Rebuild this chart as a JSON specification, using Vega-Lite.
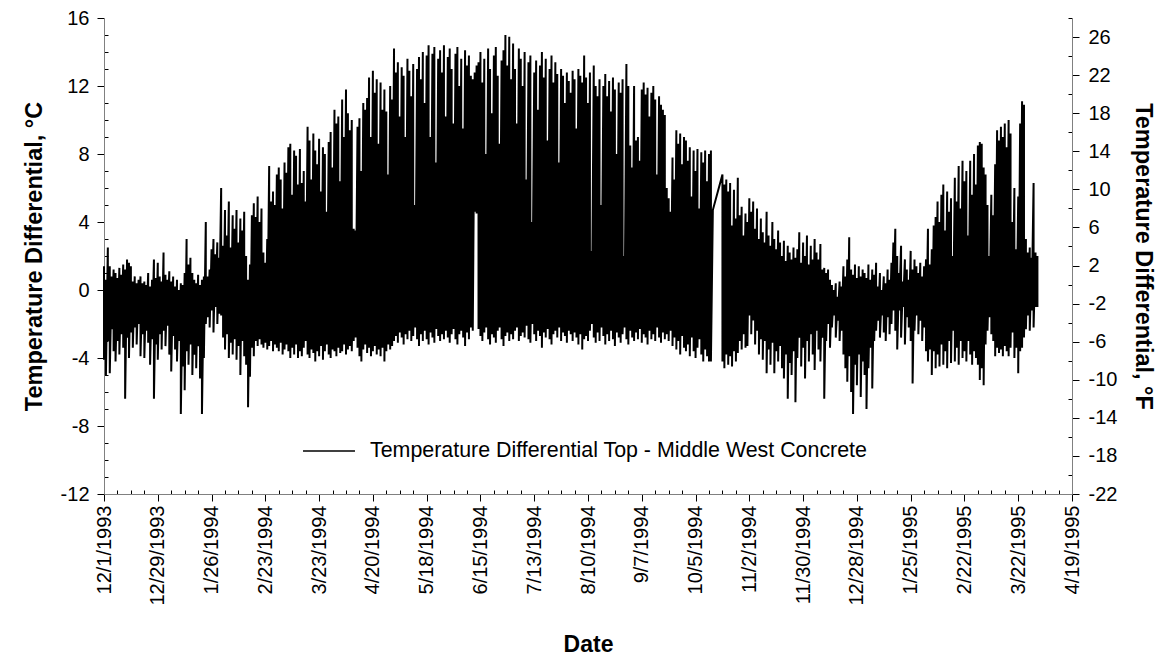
{
"$schema": "https://vega.github.io/schema/vega-lite/v6.json",
"width": 968, "height": 476,
"autosize": {"type": "none"},
"padding": {"left": 104, "top": 18, "right": 100, "bottom": 168},
"background": "white",
"config": {"view": {"stroke": null}, "font": "Liberation Sans",
 "axis": {"labelFont": "Liberation Sans", "titleFont": "Liberation Sans", "labelColor": "#000", "titleColor": "#000", "grid": false, "domainColor": "#808080", "tickColor": "#000", "labelFontSize": 20, "titleFontSize": 23.5, "titleFontWeight": "bold", "labelOverlap": false, "labelFlush": false, "labelBound": false}},
"resolve": {"scale": {"y": "independent"}, "axis": {"y": "independent"}},
"layer": [
{
"data": {"values": [
{"d":"1993-12-01","h":1.4,"l":-4.1},{"d":"1993-12-02","h":0.6,"l":-5.0},{"d":"1993-12-03","h":2.5,"l":-3.0},{"d":"1993-12-04","h":1.4,"l":-4.9},{"d":"1993-12-05","h":0.8,"l":-2.3},{"d":"1993-12-06","h":1.2,"l":-3.6},{"d":"1993-12-07","h":1.0,"l":-4.2},{"d":"1993-12-08","h":0.7,"l":-3.0},{"d":"1993-12-09","h":1.3,"l":-3.8},{"d":"1993-12-10","h":0.9,"l":-2.6},{"d":"1993-12-11","h":1.5,"l":-3.4},{"d":"1993-12-12","h":1.2,"l":-6.4},{"d":"1993-12-13","h":1.8,"l":-2.8},{"d":"1993-12-14","h":1.6,"l":-4.0},{"d":"1993-12-15","h":1.4,"l":-2.5},{"d":"1993-12-16","h":0.5,"l":-3.4},{"d":"1993-12-17","h":0.8,"l":-2.2},{"d":"1993-12-18","h":0.4,"l":-3.2},{"d":"1993-12-19","h":0.6,"l":-2.0},{"d":"1993-12-20","h":0.8,"l":-3.9},{"d":"1993-12-21","h":0.4,"l":-2.6},{"d":"1993-12-22","h":0.5,"l":-4.0},{"d":"1993-12-23","h":0.3,"l":-2.4},{"d":"1993-12-24","h":1.0,"l":-3.1},{"d":"1993-12-25","h":0.2,"l":-4.4},{"d":"1993-12-26","h":0.6,"l":-2.9},{"d":"1993-12-27","h":1.8,"l":-6.4},{"d":"1993-12-28","h":0.7,"l":-3.2},{"d":"1993-12-29","h":1.6,"l":-4.1},{"d":"1993-12-30","h":0.8,"l":-2.6},{"d":"1993-12-31","h":0.5,"l":-3.5},
{"d":"1994-01-01","h":2.2,"l":-2.4},{"d":"1994-01-02","h":0.9,"l":-3.3},{"d":"1994-01-03","h":0.6,"l":-2.1},{"d":"1994-01-04","h":1.1,"l":-3.8},{"d":"1994-01-05","h":0.5,"l":-4.8},{"d":"1994-01-06","h":0.8,"l":-2.7},{"d":"1994-01-07","h":0.2,"l":-3.5},{"d":"1994-01-08","h":0.6,"l":-4.2},{"d":"1994-01-09","h":0.0,"l":-3.0},{"d":"1994-01-10","h":0.4,"l":-7.3},{"d":"1994-01-11","h":0.3,"l":-4.5},{"d":"1994-01-12","h":1.0,"l":-5.9},{"d":"1994-01-13","h":3.0,"l":-3.6},{"d":"1994-01-14","h":1.5,"l":-4.4},{"d":"1994-01-15","h":1.9,"l":-3.2},{"d":"1994-01-16","h":1.0,"l":-5.0},{"d":"1994-01-17","h":0.6,"l":-3.8},{"d":"1994-01-18","h":0.4,"l":-4.6},{"d":"1994-01-19","h":0.9,"l":-3.3},{"d":"1994-01-20","h":0.3,"l":-5.2},{"d":"1994-01-21","h":0.6,"l":-7.3},{"d":"1994-01-22","h":0.8,"l":-4.0},{"d":"1994-01-23","h":4.0,"l":-2.0},{"d":"1994-01-24","h":0.8,"l":-1.6},{"d":"1994-01-25","h":1.2,"l":-2.2},{"d":"1994-01-26","h":2.4,"l":-1.2},{"d":"1994-01-27","h":3.0,"l":-2.5},{"d":"1994-01-28","h":2.1,"l":-1.0},{"d":"1994-01-29","h":2.8,"l":-2.0},{"d":"1994-01-30","h":1.9,"l":-1.4},{"d":"1994-01-31","h":6.0,"l":-1.5},
{"d":"1994-02-01","h":2.6,"l":-2.8},{"d":"1994-02-02","h":4.7,"l":-3.5},{"d":"1994-02-03","h":3.2,"l":-2.6},{"d":"1994-02-04","h":5.2,"l":-4.0},{"d":"1994-02-05","h":2.5,"l":-3.1},{"d":"1994-02-06","h":4.4,"l":-3.8},{"d":"1994-02-07","h":3.6,"l":-2.9},{"d":"1994-02-08","h":4.7,"l":-4.1},{"d":"1994-02-09","h":2.8,"l":-3.3},{"d":"1994-02-10","h":4.2,"l":-5.0},{"d":"1994-02-11","h":3.5,"l":-3.0},{"d":"1994-02-12","h":4.6,"l":-3.9},{"d":"1994-02-13","h":2.0,"l":-4.4},{"d":"1994-02-14","h":0.6,"l":-6.9},{"d":"1994-02-15","h":1.5,"l":-5.1},{"d":"1994-02-16","h":4.4,"l":-3.4},{"d":"1994-02-17","h":5.1,"l":-3.9},{"d":"1994-02-18","h":4.3,"l":-3.0},{"d":"1994-02-19","h":5.5,"l":-3.3},{"d":"1994-02-20","h":4.0,"l":-2.9},{"d":"1994-02-21","h":4.8,"l":-3.2},{"d":"1994-02-22","h":2.2,"l":-3.4},{"d":"1994-02-23","h":1.6,"l":-3.1},{"d":"1994-02-24","h":3.0,"l":-3.5},{"d":"1994-02-25","h":7.3,"l":-3.3},{"d":"1994-02-26","h":5.2,"l":-3.0},{"d":"1994-02-27","h":5.8,"l":-3.6},{"d":"1994-02-28","h":5.0,"l":-3.2},
{"d":"1994-03-01","h":6.8,"l":-3.4},{"d":"1994-03-02","h":7.2,"l":-3.6},{"d":"1994-03-03","h":6.5,"l":-3.1},{"d":"1994-03-04","h":4.8,"l":-3.8},{"d":"1994-03-05","h":7.5,"l":-3.5},{"d":"1994-03-06","h":6.9,"l":-3.2},{"d":"1994-03-07","h":8.4,"l":-3.6},{"d":"1994-03-08","h":8.6,"l":-4.0},{"d":"1994-03-09","h":5.6,"l":-3.4},{"d":"1994-03-10","h":8.2,"l":-3.8},{"d":"1994-03-11","h":7.9,"l":-3.2},{"d":"1994-03-12","h":6.2,"l":-4.0},{"d":"1994-03-13","h":8.3,"l":-3.6},{"d":"1994-03-14","h":6.3,"l":-3.9},{"d":"1994-03-15","h":7.0,"l":-3.4},{"d":"1994-03-16","h":5.2,"l":-3.0},{"d":"1994-03-17","h":9.6,"l":-3.8},{"d":"1994-03-18","h":8.8,"l":-4.0},{"d":"1994-03-19","h":6.5,"l":-3.5},{"d":"1994-03-20","h":9.2,"l":-3.7},{"d":"1994-03-21","h":8.2,"l":-4.2},{"d":"1994-03-22","h":7.4,"l":-3.6},{"d":"1994-03-23","h":8.9,"l":-3.9},{"d":"1994-03-24","h":5.8,"l":-3.3},{"d":"1994-03-25","h":8.4,"l":-4.1},{"d":"1994-03-26","h":8.0,"l":-3.6},{"d":"1994-03-27","h":4.6,"l":-3.2},{"d":"1994-03-28","h":8.7,"l":-3.8},{"d":"1994-03-29","h":9.3,"l":-4.0},{"d":"1994-03-30","h":7.2,"l":-3.5},{"d":"1994-03-31","h":10.6,"l":-3.6},
{"d":"1994-04-01","h":9.8,"l":-3.9},{"d":"1994-04-02","h":10.2,"l":-3.4},{"d":"1994-04-03","h":6.4,"l":-3.7},{"d":"1994-04-04","h":11.2,"l":-3.6},{"d":"1994-04-05","h":9.0,"l":-3.2},{"d":"1994-04-06","h":11.8,"l":-3.8},{"d":"1994-04-07","h":10.4,"l":-3.5},{"d":"1994-04-08","h":9.4,"l":-3.3},{"d":"1994-04-09","h":10.0,"l":-3.6},{"d":"1994-04-10","h":3.6,"l":-3.0},{"d":"1994-04-11","h":3.5,"l":-2.8},{"d":"1994-04-12","h":9.6,"l":-3.4},{"d":"1994-04-13","h":10.1,"l":-3.9},{"d":"1994-04-14","h":7.0,"l":-4.2},{"d":"1994-04-15","h":11.0,"l":-3.5},{"d":"1994-04-16","h":10.6,"l":-3.2},{"d":"1994-04-17","h":11.3,"l":-3.7},{"d":"1994-04-18","h":12.5,"l":-3.4},{"d":"1994-04-19","h":9.0,"l":-3.9},{"d":"1994-04-20","h":12.9,"l":-3.6},{"d":"1994-04-21","h":11.6,"l":-3.3},{"d":"1994-04-22","h":12.4,"l":-3.8},{"d":"1994-04-23","h":8.6,"l":-3.5},{"d":"1994-04-24","h":12.2,"l":-3.9},{"d":"1994-04-25","h":10.6,"l":-3.4},{"d":"1994-04-26","h":11.8,"l":-4.2},{"d":"1994-04-27","h":10.5,"l":-3.6},{"d":"1994-04-28","h":6.8,"l":-3.2},{"d":"1994-04-29","h":12.0,"l":-3.5},{"d":"1994-04-30","h":11.2,"l":-3.3},
{"d":"1994-05-01","h":14.2,"l":-3.0},{"d":"1994-05-02","h":12.8,"l":-2.7},{"d":"1994-05-03","h":13.4,"l":-3.1},{"d":"1994-05-04","h":10.2,"l":-2.5},{"d":"1994-05-05","h":13.1,"l":-2.8},{"d":"1994-05-06","h":12.6,"l":-3.2},{"d":"1994-05-07","h":9.0,"l":-2.6},{"d":"1994-05-08","h":13.6,"l":-2.9},{"d":"1994-05-09","h":12.9,"l":-2.4},{"d":"1994-05-10","h":11.4,"l":-3.0},{"d":"1994-05-11","h":13.3,"l":-2.7},{"d":"1994-05-12","h":5.0,"l":-2.2},{"d":"1994-05-13","h":13.0,"l":-2.9},{"d":"1994-05-14","h":13.7,"l":-3.3},{"d":"1994-05-15","h":12.4,"l":-2.6},{"d":"1994-05-16","h":14.0,"l":-3.0},{"d":"1994-05-17","h":11.0,"l":-2.4},{"d":"1994-05-18","h":13.8,"l":-2.9},{"d":"1994-05-19","h":14.4,"l":-3.2},{"d":"1994-05-20","h":9.0,"l":-2.5},{"d":"1994-05-21","h":13.9,"l":-2.8},{"d":"1994-05-22","h":14.3,"l":-3.1},{"d":"1994-05-23","h":7.5,"l":-2.3},{"d":"1994-05-24","h":13.6,"l":-2.7},{"d":"1994-05-25","h":14.1,"l":-3.0},{"d":"1994-05-26","h":12.8,"l":-2.6},{"d":"1994-05-27","h":14.4,"l":-2.9},{"d":"1994-05-28","h":10.2,"l":-2.4},{"d":"1994-05-29","h":13.7,"l":-2.8},{"d":"1994-05-30","h":14.2,"l":-3.1},{"d":"1994-05-31","h":13.0,"l":-2.6},
{"d":"1994-06-01","h":9.8,"l":-2.3},{"d":"1994-06-02","h":13.9,"l":-2.9},{"d":"1994-06-03","h":14.3,"l":-3.2},{"d":"1994-06-04","h":12.0,"l":-2.6},{"d":"1994-06-05","h":13.6,"l":-2.4},{"d":"1994-06-06","h":9.5,"l":-2.8},{"d":"1994-06-07","h":14.1,"l":-3.3},{"d":"1994-06-08","h":13.2,"l":-2.5},{"d":"1994-06-09","h":13.8,"l":-2.9},{"d":"1994-06-10","h":12.6,"l":-2.2},{"d":"1994-06-11","h":12.4,"l":-2.4},{"d":"1994-06-12","h":12.8,"l":4.6},{"d":"1994-06-13","h":13.2,"l":4.5},{"d":"1994-06-14","h":13.4,"l":-2.3},{"d":"1994-06-15","h":14.0,"l":-2.7},{"d":"1994-06-16","h":12.2,"l":-3.0},{"d":"1994-06-17","h":13.6,"l":-2.5},{"d":"1994-06-18","h":8.0,"l":-2.2},{"d":"1994-06-19","h":14.2,"l":-2.9},{"d":"1994-06-20","h":13.0,"l":-3.2},{"d":"1994-06-21","h":10.4,"l":-2.6},{"d":"1994-06-22","h":13.8,"l":-2.8},{"d":"1994-06-23","h":14.3,"l":-3.1},{"d":"1994-06-24","h":12.6,"l":-2.4},{"d":"1994-06-25","h":8.6,"l":-2.2},{"d":"1994-06-26","h":13.5,"l":-2.9},{"d":"1994-06-27","h":14.1,"l":-3.3},{"d":"1994-06-28","h":15.0,"l":-2.7},{"d":"1994-06-29","h":13.2,"l":-2.5},{"d":"1994-06-30","h":14.9,"l":-3.0},
{"d":"1994-07-01","h":12.4,"l":-2.6},{"d":"1994-07-02","h":14.5,"l":-2.9},{"d":"1994-07-03","h":13.0,"l":-2.4},{"d":"1994-07-04","h":9.8,"l":-2.2},{"d":"1994-07-05","h":14.2,"l":-3.0},{"d":"1994-07-06","h":13.6,"l":-2.7},{"d":"1994-07-07","h":12.0,"l":-2.5},{"d":"1994-07-08","h":14.0,"l":-2.8},{"d":"1994-07-09","h":6.5,"l":-2.1},{"d":"1994-07-10","h":13.4,"l":-2.9},{"d":"1994-07-11","h":13.8,"l":-3.1},{"d":"1994-07-12","h":4.0,"l":-2.0},{"d":"1994-07-13","h":12.8,"l":-2.6},{"d":"1994-07-14","h":13.5,"l":-3.0},{"d":"1994-07-15","h":10.6,"l":-2.4},{"d":"1994-07-16","h":13.2,"l":-2.7},{"d":"1994-07-17","h":14.0,"l":-3.4},{"d":"1994-07-18","h":12.5,"l":-2.5},{"d":"1994-07-19","h":13.6,"l":-2.8},{"d":"1994-07-20","h":8.8,"l":-2.3},{"d":"1994-07-21","h":13.0,"l":-2.9},{"d":"1994-07-22","h":13.8,"l":-3.2},{"d":"1994-07-23","h":12.2,"l":-2.6},{"d":"1994-07-24","h":13.4,"l":-2.4},{"d":"1994-07-25","h":12.7,"l":-2.8},{"d":"1994-07-26","h":7.5,"l":-2.2},{"d":"1994-07-27","h":13.0,"l":-3.0},{"d":"1994-07-28","h":12.6,"l":-2.5},{"d":"1994-07-29","h":11.0,"l":-2.7},{"d":"1994-07-30","h":12.8,"l":-3.1},{"d":"1994-07-31","h":12.3,"l":-2.4},
{"d":"1994-08-01","h":11.6,"l":-2.6},{"d":"1994-08-02","h":12.9,"l":-3.0},{"d":"1994-08-03","h":12.4,"l":-2.5},{"d":"1994-08-04","h":9.5,"l":-2.8},{"d":"1994-08-05","h":13.0,"l":-3.2},{"d":"1994-08-06","h":12.6,"l":-2.6},{"d":"1994-08-07","h":12.2,"l":-3.5},{"d":"1994-08-08","h":13.8,"l":-2.9},{"d":"1994-08-09","h":12.5,"l":-2.7},{"d":"1994-08-10","h":11.0,"l":-3.0},{"d":"1994-08-11","h":12.8,"l":-2.4},{"d":"1994-08-12","h":2.3,"l":-2.0},{"d":"1994-08-13","h":13.2,"l":-2.8},{"d":"1994-08-14","h":12.0,"l":-3.1},{"d":"1994-08-15","h":11.4,"l":-2.5},{"d":"1994-08-16","h":12.4,"l":-3.0},{"d":"1994-08-17","h":5.0,"l":-2.2},{"d":"1994-08-18","h":12.0,"l":-2.7},{"d":"1994-08-19","h":12.7,"l":-3.2},{"d":"1994-08-20","h":11.4,"l":-2.6},{"d":"1994-08-21","h":12.3,"l":-3.0},{"d":"1994-08-22","h":10.5,"l":-2.4},{"d":"1994-08-23","h":12.5,"l":-2.9},{"d":"1994-08-24","h":11.8,"l":-3.3},{"d":"1994-08-25","h":8.0,"l":-2.5},{"d":"1994-08-26","h":12.2,"l":-2.8},{"d":"1994-08-27","h":11.6,"l":-3.1},{"d":"1994-08-28","h":12.4,"l":-2.6},{"d":"1994-08-29","h":2.0,"l":-2.2},{"d":"1994-08-30","h":13.3,"l":-2.9},{"d":"1994-08-31","h":12.0,"l":-3.2},
{"d":"1994-09-01","h":8.5,"l":-2.4},{"d":"1994-09-02","h":7.2,"l":-2.8},{"d":"1994-09-03","h":12.0,"l":-3.0},{"d":"1994-09-04","h":8.8,"l":-2.5},{"d":"1994-09-05","h":9.0,"l":-2.9},{"d":"1994-09-06","h":7.6,"l":-2.3},{"d":"1994-09-07","h":11.8,"l":-3.1},{"d":"1994-09-08","h":12.2,"l":-2.6},{"d":"1994-09-09","h":11.5,"l":-2.8},{"d":"1994-09-10","h":11.9,"l":-3.2},{"d":"1994-09-11","h":10.2,"l":-2.4},{"d":"1994-09-12","h":11.6,"l":-2.9},{"d":"1994-09-13","h":12.0,"l":-2.6},{"d":"1994-09-14","h":11.2,"l":-3.0},{"d":"1994-09-15","h":6.8,"l":-2.2},{"d":"1994-09-16","h":11.4,"l":-2.8},{"d":"1994-09-17","h":10.9,"l":-3.1},{"d":"1994-09-18","h":10.6,"l":-2.5},{"d":"1994-09-19","h":10.3,"l":-2.9},{"d":"1994-09-20","h":6.0,"l":-2.6},{"d":"1994-09-21","h":5.4,"l":-3.0},{"d":"1994-09-22","h":4.6,"l":-2.4},{"d":"1994-09-23","h":7.8,"l":-3.3},{"d":"1994-09-24","h":6.5,"l":-2.8},{"d":"1994-09-25","h":9.4,"l":-3.5},{"d":"1994-09-26","h":8.6,"l":-3.0},{"d":"1994-09-27","h":9.2,"l":-3.8},{"d":"1994-09-28","h":7.4,"l":-2.7},{"d":"1994-09-29","h":9.0,"l":-3.4},{"d":"1994-09-30","h":8.8,"l":-3.6},
{"d":"1994-10-01","h":7.6,"l":-3.2},{"d":"1994-10-02","h":8.4,"l":-3.9},{"d":"1994-10-03","h":5.5,"l":-2.8},{"d":"1994-10-04","h":8.2,"l":-3.6},{"d":"1994-10-05","h":7.0,"l":-4.0},{"d":"1994-10-06","h":8.3,"l":-3.4},{"d":"1994-10-07","h":4.8,"l":-2.9},{"d":"1994-10-08","h":8.1,"l":-3.8},{"d":"1994-10-09","h":7.5,"l":-4.2},{"d":"1994-10-10","h":8.2,"l":-3.5},{"d":"1994-10-11","h":6.4,"l":-3.9},{"d":"1994-10-12","h":8.0,"l":-4.2},{"d":"1994-10-13","h":8.2,"l":-4.2},{"d":"1994-10-14","h":4.7,"l":4.7},{"d":"1994-10-19","h":6.8,"l":-4.2},{"d":"1994-10-20","h":6.2,"l":-4.6},{"d":"1994-10-21","h":6.5,"l":-3.8},{"d":"1994-10-22","h":5.8,"l":-4.4},{"d":"1994-10-23","h":6.3,"l":-3.9},{"d":"1994-10-24","h":3.8,"l":-4.5},{"d":"1994-10-25","h":5.9,"l":-3.6},{"d":"1994-10-26","h":4.2,"l":-4.2},{"d":"1994-10-27","h":6.6,"l":-3.7},{"d":"1994-10-28","h":4.4,"l":-3.0},{"d":"1994-10-29","h":4.9,"l":-3.5},{"d":"1994-10-30","h":3.2,"l":-2.6},{"d":"1994-10-31","h":4.5,"l":-3.4},
{"d":"1994-11-01","h":4.0,"l":-3.3},{"d":"1994-11-02","h":5.4,"l":-1.5},{"d":"1994-11-03","h":4.6,"l":-2.6},{"d":"1994-11-04","h":5.2,"l":-1.8},{"d":"1994-11-05","h":3.6,"l":-3.2},{"d":"1994-11-06","h":4.8,"l":-2.4},{"d":"1994-11-07","h":3.0,"l":-3.8},{"d":"1994-11-08","h":4.2,"l":-2.9},{"d":"1994-11-09","h":3.4,"l":-4.1},{"d":"1994-11-10","h":2.8,"l":-3.0},{"d":"1994-11-11","h":4.6,"l":-4.9},{"d":"1994-11-12","h":3.2,"l":-3.5},{"d":"1994-11-13","h":2.6,"l":-4.4},{"d":"1994-11-14","h":4.0,"l":-3.1},{"d":"1994-11-15","h":3.0,"l":-4.9},{"d":"1994-11-16","h":2.4,"l":-3.6},{"d":"1994-11-17","h":3.5,"l":-4.2},{"d":"1994-11-18","h":2.8,"l":-3.3},{"d":"1994-11-19","h":2.0,"l":-4.6},{"d":"1994-11-20","h":2.9,"l":-5.2},{"d":"1994-11-21","h":1.7,"l":-3.8},{"d":"1994-11-22","h":2.6,"l":-6.4},{"d":"1994-11-23","h":2.2,"l":-4.3},{"d":"1994-11-24","h":1.8,"l":-5.0},{"d":"1994-11-25","h":2.5,"l":-3.6},{"d":"1994-11-26","h":1.9,"l":-6.6},{"d":"1994-11-27","h":2.4,"l":-4.0},{"d":"1994-11-28","h":3.4,"l":-2.8},{"d":"1994-11-29","h":1.6,"l":-4.5},{"d":"1994-11-30","h":2.8,"l":-3.4},
{"d":"1994-12-01","h":2.0,"l":-5.2},{"d":"1994-12-02","h":3.2,"l":-3.0},{"d":"1994-12-03","h":1.5,"l":-4.2},{"d":"1994-12-04","h":2.6,"l":-2.6},{"d":"1994-12-05","h":1.8,"l":-3.8},{"d":"1994-12-06","h":3.0,"l":-4.7},{"d":"1994-12-07","h":2.2,"l":-2.4},{"d":"1994-12-08","h":1.8,"l":-3.5},{"d":"1994-12-09","h":2.7,"l":-4.2},{"d":"1994-12-10","h":1.2,"l":-2.8},{"d":"1994-12-11","h":1.3,"l":-6.4},{"d":"1994-12-12","h":1.0,"l":-3.0},{"d":"1994-12-13","h":1.2,"l":-2.0},{"d":"1994-12-14","h":0.6,"l":-3.4},{"d":"1994-12-15","h":0.3,"l":-2.2},{"d":"1994-12-16","h":0.0,"l":-1.5},{"d":"1994-12-17","h":0.4,"l":-2.8},{"d":"1994-12-18","h":-0.4,"l":-1.8},{"d":"1994-12-19","h":0.5,"l":-3.0},{"d":"1994-12-20","h":0.2,"l":-2.4},{"d":"1994-12-21","h":1.4,"l":-3.8},{"d":"1994-12-22","h":0.8,"l":-4.6},{"d":"1994-12-23","h":1.8,"l":-5.4},{"d":"1994-12-24","h":3.1,"l":-3.9},{"d":"1994-12-25","h":1.2,"l":-6.0},{"d":"1994-12-26","h":0.9,"l":-7.3},{"d":"1994-12-27","h":1.5,"l":-4.4},{"d":"1994-12-28","h":0.7,"l":-5.6},{"d":"1994-12-29","h":1.4,"l":-3.8},{"d":"1994-12-30","h":0.8,"l":-6.3},{"d":"1994-12-31","h":1.2,"l":-4.2},
{"d":"1995-01-01","h":1.0,"l":-5.0},{"d":"1995-01-02","h":0.7,"l":-7.0},{"d":"1995-01-03","h":1.5,"l":-4.6},{"d":"1995-01-04","h":0.6,"l":-3.4},{"d":"1995-01-05","h":1.2,"l":-5.8},{"d":"1995-01-06","h":0.9,"l":-3.0},{"d":"1995-01-07","h":1.6,"l":-2.4},{"d":"1995-01-08","h":0.2,"l":-1.8},{"d":"1995-01-09","h":1.0,"l":-2.8},{"d":"1995-01-10","h":0.0,"l":-1.5},{"d":"1995-01-11","h":0.8,"l":-2.5},{"d":"1995-01-12","h":0.4,"l":-3.0},{"d":"1995-01-13","h":1.2,"l":-1.6},{"d":"1995-01-14","h":0.6,"l":-2.6},{"d":"1995-01-15","h":1.6,"l":-2.0},{"d":"1995-01-16","h":2.8,"l":-1.2},{"d":"1995-01-17","h":3.6,"l":-2.4},{"d":"1995-01-18","h":2.0,"l":-3.5},{"d":"1995-01-19","h":1.0,"l":-1.2},{"d":"1995-01-20","h":2.6,"l":-2.8},{"d":"1995-01-21","h":0.5,"l":-1.0},{"d":"1995-01-22","h":1.8,"l":-3.2},{"d":"1995-01-23","h":1.2,"l":-1.6},{"d":"1995-01-24","h":0.6,"l":-2.2},{"d":"1995-01-25","h":2.3,"l":-3.0},{"d":"1995-01-26","h":1.2,"l":-5.5},{"d":"1995-01-27","h":1.8,"l":-2.4},{"d":"1995-01-28","h":1.4,"l":-1.5},{"d":"1995-01-29","h":1.0,"l":-2.6},{"d":"1995-01-30","h":1.6,"l":-1.8},{"d":"1995-01-31","h":0.8,"l":-3.0},
{"d":"1995-02-01","h":1.4,"l":-2.2},{"d":"1995-02-02","h":1.8,"l":-3.6},{"d":"1995-02-03","h":3.6,"l":-4.2},{"d":"1995-02-04","h":1.5,"l":-3.5},{"d":"1995-02-05","h":2.4,"l":-5.0},{"d":"1995-02-06","h":3.8,"l":-3.6},{"d":"1995-02-07","h":4.3,"l":-4.6},{"d":"1995-02-08","h":5.2,"l":-3.8},{"d":"1995-02-09","h":4.0,"l":-4.5},{"d":"1995-02-10","h":5.6,"l":-3.2},{"d":"1995-02-11","h":6.2,"l":-4.4},{"d":"1995-02-12","h":3.5,"l":-3.6},{"d":"1995-02-13","h":5.8,"l":-4.6},{"d":"1995-02-14","h":4.6,"l":-3.0},{"d":"1995-02-15","h":5.4,"l":-4.3},{"d":"1995-02-16","h":2.0,"l":-2.4},{"d":"1995-02-17","h":6.6,"l":-4.2},{"d":"1995-02-18","h":5.2,"l":-3.4},{"d":"1995-02-19","h":7.3,"l":-4.4},{"d":"1995-02-20","h":4.8,"l":-3.0},{"d":"1995-02-21","h":7.6,"l":-4.0},{"d":"1995-02-22","h":6.4,"l":-3.6},{"d":"1995-02-23","h":7.0,"l":-4.2},{"d":"1995-02-24","h":3.2,"l":-3.0},{"d":"1995-02-25","h":7.6,"l":-3.8},{"d":"1995-02-26","h":5.6,"l":-4.4},{"d":"1995-02-27","h":8.0,"l":-3.6},{"d":"1995-02-28","h":6.2,"l":-4.0},
{"d":"1995-03-01","h":8.5,"l":-4.4},{"d":"1995-03-02","h":8.7,"l":-5.3},{"d":"1995-03-03","h":8.6,"l":-4.6},{"d":"1995-03-04","h":7.2,"l":-5.6},{"d":"1995-03-05","h":6.8,"l":-3.2},{"d":"1995-03-06","h":5.0,"l":-2.4},{"d":"1995-03-07","h":2.0,"l":-1.6},{"d":"1995-03-08","h":5.6,"l":-2.6},{"d":"1995-03-09","h":4.4,"l":-3.0},{"d":"1995-03-10","h":7.4,"l":-3.9},{"d":"1995-03-11","h":9.4,"l":-3.4},{"d":"1995-03-12","h":8.8,"l":-3.7},{"d":"1995-03-13","h":9.6,"l":-3.5},{"d":"1995-03-14","h":9.0,"l":-3.9},{"d":"1995-03-15","h":9.8,"l":-3.3},{"d":"1995-03-16","h":8.4,"l":-3.6},{"d":"1995-03-17","h":10.0,"l":-3.9},{"d":"1995-03-18","h":9.2,"l":-3.4},{"d":"1995-03-19","h":4.0,"l":-2.5},{"d":"1995-03-20","h":6.0,"l":-4.0},{"d":"1995-03-21","h":2.4,"l":-3.4},{"d":"1995-03-22","h":5.5,"l":-4.9},{"d":"1995-03-23","h":9.8,"l":-3.6},{"d":"1995-03-24","h":11.1,"l":-3.4},{"d":"1995-03-25","h":10.9,"l":-2.8},{"d":"1995-03-26","h":3.0,"l":-2.3},{"d":"1995-03-27","h":2.2,"l":-1.5},{"d":"1995-03-28","h":2.5,"l":-2.4},{"d":"1995-03-29","h":1.9,"l":-1.2},{"d":"1995-03-30","h":6.3,"l":-2.2},{"d":"1995-03-31","h":2.2,"l":-1.0},{"d":"1995-04-01","h":2.0,"l":-1.0}
]},
"transform": [{"fold": ["h", "l"], "as": ["k", "v"]}],
"mark": {"type": "line", "strokeWidth": 2},
"encoding": {
 "x": {"field": "d", "type": "temporal", "title": "Date",
  "scale": {"domain": [754704000000, 798249600000], "nice": false},
  "axis": {"values": [754704000000,755308800000,755913600000,756518400000,757123200000,757728000000,758332800000,758937600000,759542400000,760147200000,760752000000,761356800000,761961600000,762566400000,763171200000,763776000000,764380800000,764985600000,765590400000,766195200000,766800000000,767404800000,768009600000,768614400000,769219200000,769824000000,770428800000,771033600000,771638400000,772243200000,772848000000,773452800000,774057600000,774662400000,775267200000,775872000000,776476800000,777081600000,777686400000,778291200000,778896000000,779500800000,780105600000,780710400000,781315200000,781920000000,782524800000,783129600000,783734400000,784339200000,784944000000,785548800000,786153600000,786758400000,787363200000,787968000000,788572800000,789177600000,789782400000,790387200000,790992000000,791596800000,792201600000,792806400000,793411200000,794016000000,794620800000,795225600000,795830400000,796435200000,797040000000,797644800000,798249600000],
   "labelExpr": "(datum.value - 754704000000) % 2419200000 === 0 ? utcFormat(datum.value, '%-m/%-d/%Y') : ''",
   "labelAngle": 270, "labelAlign": "right", "labelBaseline": "middle", "labelPadding": 4,
   "tickSize": {"condition": {"test": "(datum.value - 754704000000) % 2419200000 === 0", "value": 7}, "value": -4},
   "titleFontSize": 23, "titlePadding": 28}},
 "y": {"field": "v", "type": "quantitative",
  "scale": {"domain": [-12, 16], "nice": false, "zero": false},
  "axis": {"orient": "left", "title": "Temperature Differential, °C",
   "values": [-12,-11,-10,-9,-8,-7,-6,-5,-4,-3,-2,-1,0,1,2,3,4,5,6,7,8,9,10,11,12,13,14,15,16],
   "labelExpr": "datum.value % 4 === 0 ? '' + datum.value : ''",
   "tickSize": {"condition": {"test": "datum.value % 4 === 0", "value": 7}, "value": -4},
   "labelPadding": 8, "titlePadding": 14}},
 "order": [{"field": "d", "type": "temporal"}, {"field": "k"}],
 "color": {"datum": "Temperature Differential Top - Middle West Concrete", "type": "nominal",
  "scale": {"range": ["#000000"]},
  "legend": {"orient": "none", "legendX": 198, "legendY": 406, "title": null, "symbolType": "stroke", "symbolSize": 2700, "symbolStrokeWidth": 1.5, "labelFontSize": 21.4, "labelFont": "Liberation Sans", "labelColor": "#000", "labelOffset": 14, "padding": 0, "labelLimit": 0}}
}
},
{
"data": {"values": [{"f": -22}, {"f": 28}]},
"mark": {"type": "point", "opacity": 0},
"encoding": {
 "y": {"field": "f", "type": "quantitative",
  "scale": {"domain": [-22, 28], "nice": false, "zero": false},
  "axis": {"orient": "right", "title": "Temperature Differential, °F",
   "values": [-22,-20,-18,-16,-14,-12,-10,-8,-6,-4,-2,0,2,4,6,8,10,12,14,16,18,20,22,24,26,28],
   "labelExpr": "(datum.value + 22) % 4 === 0 ? '' + datum.value : ''",
   "tickSize": {"condition": {"test": "(datum.value + 22) % 4 === 0", "value": 7}, "value": -4},
   "labelPadding": 9, "titlePadding": 14}}
}
}
]
}
